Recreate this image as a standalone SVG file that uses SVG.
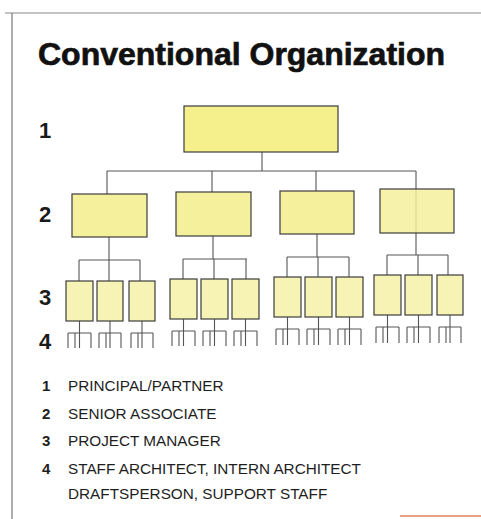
<svg xmlns="http://www.w3.org/2000/svg" width="481" height="519" viewBox="0 0 481 519">
<style>
.box{stroke:#3c3c3c;stroke-width:1.2}
.l1{fill:#f6f08c}
.l2{fill:#f5f09c}
.l3{fill:#f6f3b4}
.c{stroke:#555;stroke-width:1.1;fill:none}
.num{font-family:"Liberation Sans",Arial,sans-serif;font-weight:bold;font-size:22px;fill:#1a1a1a}
.leg{font-family:"Liberation Sans",Arial,sans-serif;font-size:15.3px;fill:#1e1e1e}
.legn{font-family:"Liberation Sans",Arial,sans-serif;font-weight:bold;font-size:15px;fill:#1e1e1e}
</style>
<rect width="481" height="519" fill="#ffffff"/>
<g id="frame">
<line x1="5" y1="13" x2="481" y2="13" stroke="#8a8a8a" stroke-width="1.2"/>
<line x1="12" y1="13" x2="12" y2="519" stroke="#777" stroke-width="1.2"/>
<line x1="400" y1="516" x2="481" y2="516" stroke="#e0825a" stroke-width="1.5"/>
</g>
<text x="38" y="65" font-family="'Liberation Sans',Arial,sans-serif" font-weight="bold" font-size="32" fill="#111" stroke="#111" stroke-width="0.7" textLength="407" lengthAdjust="spacingAndGlyphs">Conventional Organization</text>
<g id="levels">
<text class="num" x="39" y="138">1</text>
<text class="num" x="39" y="222">2</text>
<text class="num" x="39" y="305">3</text>
<text class="num" x="39" y="349">4</text>
</g>
<g id="connectors" class="c">
<path d="M262 152V171M107 171H416M107 171V194M212 171V192M316 171V191M416 171V255"/>
<path d="M109 237V260M79 260H140M79 260V281M109 260V281M140 260V281"/>
<path d="M213 236V259M183 259H247M183 259V279M214 259V279M246 259V279"/>
<path d="M317 234V257M287 257H349M287 257V277M318 257V277M349 257V277"/>
<path d="M387 255H448M387 255V275M418 255V275M448 255V275"/>
<path d="M68 333H91M68 333V348M75 333V348M79.5 321V348M91 333V348"/>
<path d="M99 333H121M99 333V348M106 333V348M110 321V348M121 333V348"/>
<path d="M131 333H153M131 333V348M138 333V348M142 321V348M153 333V348"/>
<path d="M172 331H195M172 331V346M179 331V346M183.5 319V346M195 331V346"/>
<path d="M203 331H226M203 331V346M210 331V346M214.5 319V346M226 331V346"/>
<path d="M234 331H257M234 331V346M241 331V346M245.5 319V346M257 331V346"/>
<path d="M276 329H299M276 329V345M283 329V345M287.5 317V345M299 329V345"/>
<path d="M307 329H330M307 329V345M314 329V345M318.5 317V345M330 329V345"/>
<path d="M338 329H361M338 329V345M345 329V345M349.5 317V345M361 329V345"/>
<path d="M376 327H399M376 327V343M383 327V343M387.5 315V343M399 327V343"/>
<path d="M407 327H430M407 327V343M414 327V343M418.5 315V343M430 327V343"/>
<path d="M439 327H461M439 327V343M446 327V343M450 315V343M461 327V343"/>
</g>
<g id="n1"><rect class="box l1" x="184" y="106" width="154" height="46"/></g>
<g id="n2a"><rect class="box l2" x="72" y="194" width="75" height="43"/></g>
<g id="n2b"><rect class="box l2" x="176" y="192" width="75" height="44"/></g>
<g id="n2c"><rect class="box l2" x="280" y="191" width="74" height="43"/></g>
<g id="n2d"><rect class="box l2" x="380" y="189" width="74" height="44" fill-opacity="0.85"/></g>
<g id="n3a1"><rect class="box l3" x="66" y="281" width="27" height="40"/></g>
<g id="n3a2"><rect class="box l3" x="97" y="281" width="26" height="40"/></g>
<g id="n3a3"><rect class="box l3" x="129" y="281" width="26" height="40"/></g>
<g id="n3b1"><rect class="box l3" x="170" y="279" width="27" height="40"/></g>
<g id="n3b2"><rect class="box l3" x="201" y="279" width="27" height="40"/></g>
<g id="n3b3"><rect class="box l3" x="232" y="279" width="27" height="40"/></g>
<g id="n3c1"><rect class="box l3" x="274" y="277" width="27" height="40"/></g>
<g id="n3c2"><rect class="box l3" x="305" y="277" width="27" height="40"/></g>
<g id="n3c3"><rect class="box l3" x="336" y="277" width="27" height="40"/></g>
<g id="n3d1"><rect class="box l3" x="374" y="275" width="27" height="40"/></g>
<g id="n3d2"><rect class="box l3" x="405" y="275" width="27" height="40"/></g>
<g id="n3d3"><rect class="box l3" x="437" y="275" width="26" height="40"/></g>
<g id="legend">
<text class="legn" x="42" y="391">1</text><text class="leg" x="68" y="391">PRINCIPAL/PARTNER</text>
<text class="legn" x="42" y="419">2</text><text class="leg" x="68" y="419">SENIOR ASSOCIATE</text>
<text class="legn" x="42" y="446">3</text><text class="leg" x="68" y="446">PROJECT MANAGER</text>
<text class="legn" x="42" y="474">4</text><text class="leg" x="68" y="474">STAFF ARCHITECT, INTERN ARCHITECT</text>
<text class="leg" x="68" y="499">DRAFTSPERSON, SUPPORT STAFF</text>
</g>
</svg>
